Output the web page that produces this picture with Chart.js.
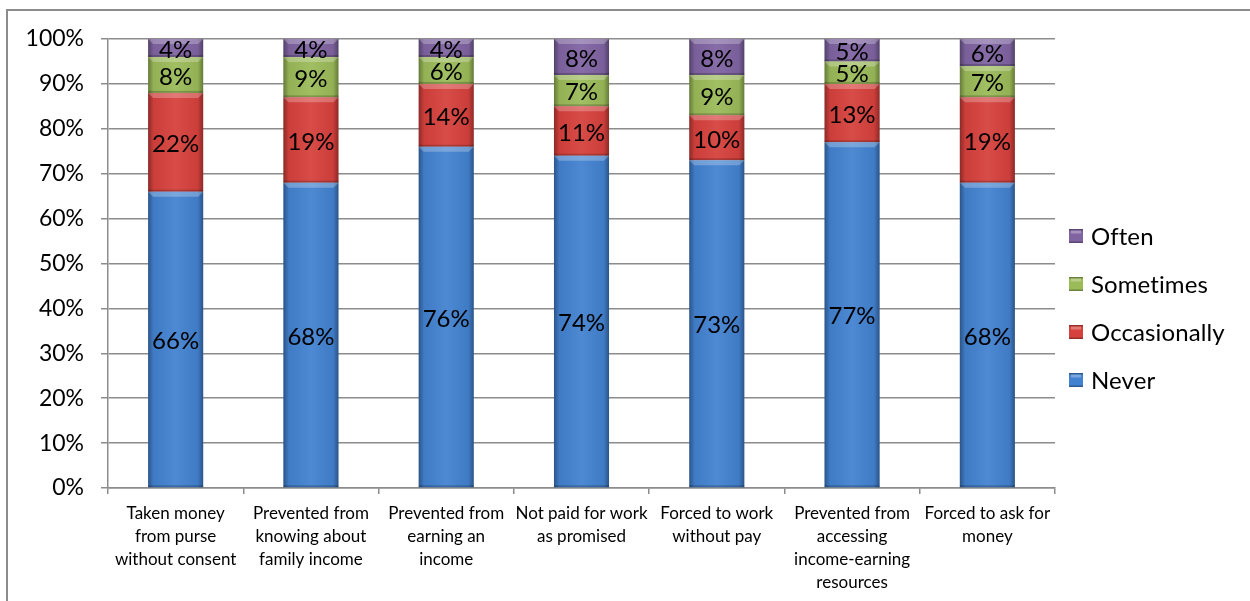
<!DOCTYPE html>
<html>
<head>
<meta charset="utf-8">
<script src="https://cdn.jsdelivr.net/npm/chart.js@4"></script>
<style>
  html, body { margin: 0; padding: 0; background: #fff; overflow: hidden; }
  #wrap { position: relative; width: 1250px; height: 601px; }
  #frame { position: absolute; left: 6px; top: 9px; width: 1300px; height: 700px;
           border: 2px solid #8c8c8c; pointer-events: none; }
  canvas { position: absolute; left: 0; top: 0; }
</style>
</head>
<body>
<div id="wrap">
  <canvas id="chart" width="1250" height="601"></canvas>
  <div id="frame"></div>
</div>
<script>
// categories (multi-line labels as in the original)
const categories = [
    ['Taken money', 'from purse', 'without consent'],
    ['Prevented from', 'knowing about', 'family income'],
    ['Prevented from', 'earning an', 'income'],
    ['Not paid for work', 'as promised'],
    ['Forced to work', 'without pay'],
    ['Prevented from', 'accessing', 'income-earning', 'resources'],
    ['Forced to ask for', 'money']
];

// series values, in percent
const never        = [66, 68, 76, 74, 73, 77, 68];
const occasionally = [22, 19, 14, 11, 10, 13, 19];
const sometimes    = [8, 9, 6, 7, 9, 5, 7];
const often        = [4, 4, 4, 8, 8, 5, 6];

const seriesNames = ['Never', 'Occasionally', 'Sometimes', 'Often'];
const yTicks = [0, 10, 20, 30, 40, 50, 60, 70, 80, 90, 100];

const colors = ['#4382d0', '#d6413d', '#9bbb59', '#8064a2'];
const FONT = 'Lato, "Liberation Sans", sans-serif';

document.addEventListener('DOMContentLoaded', () => {
    const ctx = document.getElementById('chart').getContext('2d');

    // bevel-ish shading on each bar segment
    const bevel = {
        id: 'bevel',
        afterDatasetsDraw(chart) {
            const c = chart.ctx;
            chart.data.datasets.forEach((ds, i) => {
                chart.getDatasetMeta(i).data.forEach(bar => {
                    const left = bar.x - bar.width / 2;
                    const top = Math.min(bar.y, bar.base);
                    const h = Math.abs(bar.base - bar.y);
                    const g = c.createLinearGradient(left, 0, left + bar.width, 0);
                    g.addColorStop(0, 'rgba(0,0,0,0.35)');
                    g.addColorStop(0.1, 'rgba(0,0,0,0.05)');
                    g.addColorStop(0.5, 'rgba(255,255,255,0.06)');
                    g.addColorStop(0.9, 'rgba(0,0,0,0.05)');
                    g.addColorStop(1, 'rgba(0,0,0,0.35)');
                    c.save();
                    c.fillStyle = g;
                    c.fillRect(left, top, bar.width, h);
                    // top bevel
                    c.fillStyle = 'rgba(255,255,255,0.25)';
                    c.beginPath();
                    c.moveTo(left, top);
                    c.lineTo(left + bar.width, top);
                    c.lineTo(left + bar.width - 5, top + 5);
                    c.lineTo(left + 5, top + 5);
                    c.closePath();
                    c.fill();
                    // bottom shade
                    c.fillStyle = 'rgba(0,0,0,0.2)';
                    c.fillRect(left, top + h - 2, bar.width, 2);
                    c.restore();
                });
            });
        }
    };

    // value labels centred in each segment
    const valueLabels = {
        id: 'valueLabels',
        afterDatasetsDraw(chart) {
            const c = chart.ctx;
            c.save();
            c.font = '24px ' + FONT;
            c.fillStyle = '#000';
            c.textAlign = 'center';
            c.textBaseline = 'middle';
            chart.data.datasets.forEach((ds, i) => {
                chart.getDatasetMeta(i).data.forEach((bar, j) => {
                    c.fillText(ds.data[j] + '%', bar.x, (bar.y + bar.base) / 2 + 2);
                });
            });
            c.restore();
        }
    };

    // legend on the right, top item = last series
    const sideLegend = {
        id: 'sideLegend',
        afterDraw(chart) {
            const c = chart.ctx;
            c.save();
            c.font = '24px ' + FONT;
            c.textBaseline = 'middle';
            c.textAlign = 'left';
            if ('letterSpacing' in c) c.letterSpacing = '0.1px'; // no "ti" ligature
            const ds = chart.data.datasets.slice().reverse();
            ds.forEach((d, k) => {
                const y = 236 + k * 48;
                const x = 1069;
                c.fillStyle = d.backgroundColor;
                c.fillRect(x, y - 7, 14, 14);
                c.fillStyle = 'rgba(0,0,0,0.3)';
                c.fillRect(x, y - 7, 14, 1.5);
                c.fillRect(x, y + 5.5, 14, 1.5);
                c.fillStyle = 'rgba(255,255,255,0.3)';
                c.fillRect(x + 2, y - 5.5, 10, 3);
                c.fillStyle = '#000';
                c.fillText(d.label, 1091, y + 1);
            });
            c.restore();
        }
    };

    const seriesData = [never, occasionally, sometimes, often];

    new Chart(ctx, {
        type: 'bar',
        data: {
            labels: categories,
            datasets: seriesNames.map((name, i) => ({
                label: name,
                data: seriesData[i],
                backgroundColor: colors[i],
                borderWidth: 0,
                barPercentage: 0.407,
                categoryPercentage: 1
            }))
        },
        options: {
            responsive: false,
            animation: false,
            layout: { padding: { left: 0, top: 39, right: 195, bottom: 0 } },
            plugins: {
                legend: { display: false },
                tooltip: { enabled: false }
            },
            scales: {
                x: {
                    stacked: true,
                    grid: { drawOnChartArea: false, drawTicks: true, tickLength: 6, color: '#8c8c8c', lineWidth: 1.5 },
                    border: { color: '#8c8c8c', width: 1.5 },
                    ticks: {
                        color: '#000',
                        font: { family: FONT, size: 17, lineHeight: 1.36 },
                        padding: 8,
                        maxRotation: 0,
                        autoSkip: false
                    },
                    afterFit(scale) { scale.height = 113; }
                },
                y: {
                    stacked: true,
                    min: 0,
                    max: 100,
                    afterBuildTicks(scale) { scale.ticks = yTicks.map(v => ({ value: v })); },
                    grid: { color: '#8c8c8c', lineWidth: 1.5, tickLength: 7 },
                    border: { color: '#8c8c8c', width: 1.5 },
                    ticks: {
                        color: '#000',
                        font: { family: FONT, size: 23 },
                        padding: 17,
                        callback: v => v + '%'
                    },
                    afterFit(scale) { scale.width = 108; }
                }
            }
        },
        plugins: [bevel, valueLabels, sideLegend]
    });
});
</script>
</body>
</html>
